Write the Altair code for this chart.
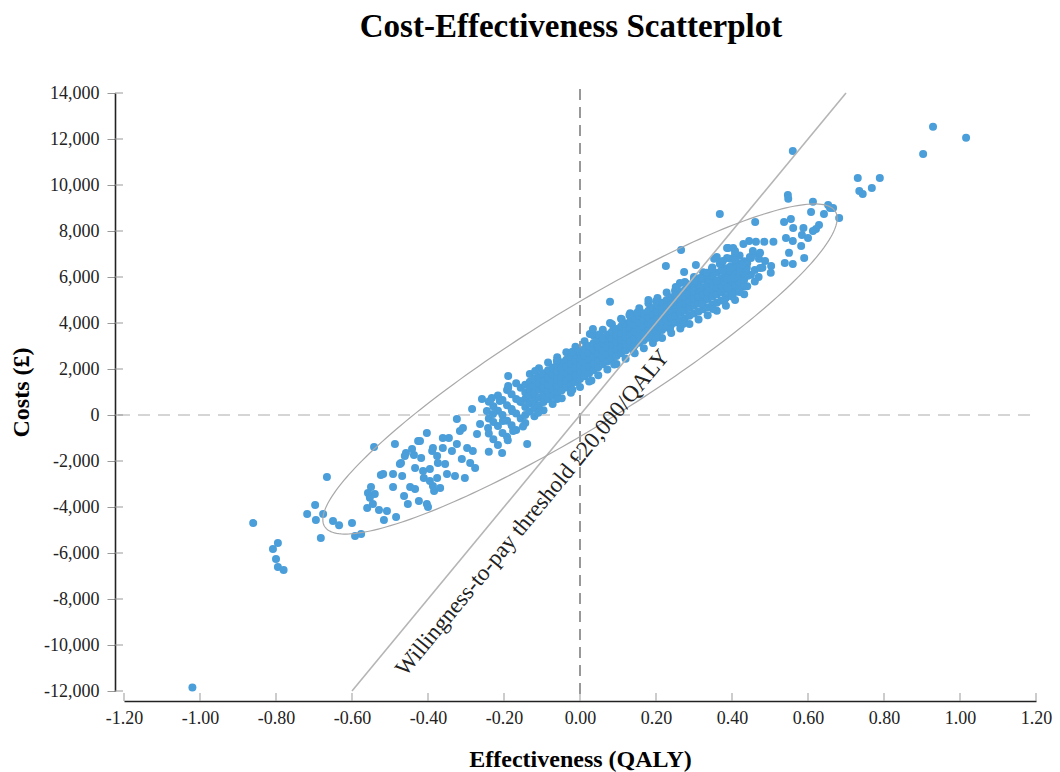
import altair as alt
import numpy as np
import pandas as pd

# ---------------- axis ticks ----------------
X_TICKS = [-1.2, -1.0, -0.8, -0.6, -0.4, -0.2, 0.0, 0.2, 0.4, 0.6, 0.8, 1.0, 1.2]
Y_TICKS = [-12000, -10000, -8000, -6000, -4000, -2000, 0, 2000, 4000, 6000,
           8000, 10000, 12000, 14000]

# ---------------- willingness-to-pay threshold ----------------
WTP = 20000
WTP_X = [-0.6, 0.7]
WTP_LABEL = "Willingness-to-pay threshold £20,000/QALY"
WTP_LABEL_POS = [-0.125, -4250]

# ---------------- confidence ellipse (centre and two half-axis vectors) ----------------
ELLIPSE_CENTER = [0.0, 2000]
ELLIPSE_AXIS1 = [0.672, 6848]
ELLIPSE_AXIS2 = [-0.080, 2146]

# ---------------- dense core of the cloud: x and the costs read at that x ----------------
CORE_X = [-0.24, -0.228, -0.216, -0.204, -0.192, -0.18, -0.168, -0.156, -0.144, -0.132,
          -0.12, -0.108, -0.096, -0.084, -0.072, -0.06, -0.048, -0.036, -0.024, -0.012,
          0.0, 0.012, 0.024, 0.036, 0.048, 0.06, 0.072, 0.084, 0.096, 0.108,
          0.12, 0.132, 0.144, 0.156, 0.168, 0.18, 0.192, 0.204, 0.216, 0.228,
          0.24, 0.252, 0.264, 0.276, 0.288, 0.30, 0.312, 0.324, 0.336, 0.348,
          0.36, 0.372, 0.384, 0.396, 0.408, 0.42, 0.432]
CORE_Y = [
    [-1600, -800, -150, 580],
    [-1050, -300, 380],
    [-1300, -480, 180, 850],
    [-780, 0, 650],
    [-950, -250, 420, 1090],
    [-450, 260, 900],
    [-650, 60, 700, 1380],
    [-150, 560, 1180],
    [-350, 0, 350, 700, 980, 1320],
    [150, 500, 830, 1130, 1450, 1780],
    [-50, 300, 620, 950, 1260, 1580],
    [420, 760, 1100, 1380, 1700, 2030],
    [210, 560, 880, 1200, 1500, 1820],
    [700, 1020, 1330, 1640, 1950, 2280],
    [480, 830, 1140, 1450, 1760, 2060],
    [950, 1260, 1570, 1870, 2180, 2510],
    [730, 1080, 1380, 1690, 2000, 2290],
    [1200, 1500, 1800, 2110, 2400, 2730],
    [970, 1320, 1630, 1930, 2230, 2520],
    [1440, 1750, 2050, 2350, 2640, 2970],
    [1220, 1570, 1870, 2170, 2470, 2760],
    [1690, 2000, 2300, 2600, 2880, 3210],
    [1460, 1810, 2120, 2420, 2710, 3000],
    [1950, 2250, 2550, 2840, 3130, 3460],
    [1730, 2080, 2380, 2680, 2970, 3260],
    [2210, 2510, 2810, 3100, 3380, 3710],
    [1980, 2330, 2630, 2930, 3220, 3500],
    [2450, 2750, 3050, 3340, 3620, 3950],
    [2220, 2570, 2870, 3170, 3460, 3740],
    [2680, 2980, 3280, 3570, 3850, 4180],
    [2450, 2800, 3100, 3400, 3690, 3970],
    [2920, 3220, 3520, 3810, 4090, 4420],
    [2680, 3030, 3330, 3630, 3920, 4200],
    [3140, 3440, 3740, 4030, 4310, 4640],
    [2900, 3250, 3550, 3850, 4140, 4420],
    [3360, 3660, 3960, 4250, 4530, 4860],
    [3130, 3480, 3780, 4080, 4370, 4650],
    [3590, 3890, 4190, 4480, 4760, 5090],
    [3350, 3700, 4010, 4310, 4600, 4880],
    [3820, 4130, 4430, 4720, 5000, 5330],
    [3570, 3920, 4240, 4540, 4830, 5120],
    [4020, 4340, 4640, 4930, 5230, 5560],
    [3760, 4110, 4440, 4740, 5040, 5340],
    [4210, 4540, 4840, 5140, 5450, 5780],
    [3960, 4310, 4650, 4950, 5250, 5560],
    [4410, 4750, 5050, 5350, 5670, 6000],
    [4150, 4500, 4850, 5150, 5450, 5780],
    [4600, 4950, 5250, 5550, 5880, 6210],
    [4340, 4690, 5040, 5340, 5650, 5980],
    [4790, 5140, 5440, 5750, 6080, 6410],
    [4530, 4880, 5240, 5540, 5850, 6180],
    [4980, 5340, 5640, 5950, 6280, 6610],
    [4750, 5100, 5440, 5740, 6050, 6380],
    [5220, 5540, 5840, 6150, 6460, 6790],
    [5000, 5350, 5640, 5930, 6230, 6530],
    [5480, 5760, 6040, 6320, 6600, 6930],
    [5250, 5600, 5880, 6140, 6400, 6680],
]

# ---------------- scattered points (lower-left tail) ----------------
LOW_X = [-1.02, -0.86, -0.795, -0.808, -0.80, -0.795, -0.78,
         -0.697, -0.718, -0.695, -0.676, -0.682, -0.65, -0.634, -0.60, -0.592, -0.576, -0.666,
         -0.55, -0.558, -0.54, -0.553, -0.56, -0.545, -0.529, -0.508, -0.516, -0.492, -0.484,
         -0.542, -0.524, -0.487,
         -0.471, -0.468, -0.458, -0.463, -0.453, -0.447, -0.434, -0.424, -0.403, -0.400, -0.384,
         -0.368, -0.387,
         -0.437, -0.418, -0.434, -0.413, -0.395, -0.411, -0.395, -0.376, -0.389, -0.376, -0.361,
         -0.374, -0.355, -0.35, -0.345, -0.337, -0.329, -0.303, -0.311, -0.316, -0.324, -0.297,
         -0.289, -0.276, -0.282, -0.271, -0.403, -0.426,
         -0.258, -0.263, -0.245, -0.242, -0.232, -0.229, -0.211, -0.203, -0.205, -0.189, -0.179,
         -0.176, -0.139, -0.158,
         -0.189, -0.189, -0.237, -0.284, -0.324, -0.308, -0.361, -0.387, -0.421, -0.442, -0.461,
         -0.474, -0.518, -0.492]
LOW_Y = [-11850, -4700, -5570, -5830, -6260, -6610, -6740,
         -3910, -4300, -4570, -4300, -5350, -4610, -4790, -4700, -5260, -5170, -2700,
         -3130, -3390, -3440, -3600, -4040, -3870, -4130, -4170, -4570, -3130, -4430,
         -1390, -2610, -1260,
         -2090, -2650, -1650, -3520, -3870, -3130, -3220, -3740, -3870, -4000, -3300,
         -3170, -3090,
         -1740, -1870, -2300, -2440, -2350, -2740, -2870, -2740, -1570, -1780, -1440,
         -2090, -2130, -2570, -1000, -1570, -2650, -2740, -1910, -700, -1260, -1440,
         -2090, -2300, -1570, -830, -780, -1130,
         700, -390, 170, -570, 740, 40, 610, -260, -1650, 1170, 170,
         -700, -1260, 610,
         1700, 1260, 610, 260, -170, -570, -1000, -1430, -1130, -1480, -1780,
         -2130, -2570, -2570]

# ---------------- scattered points around the core ----------------
MID_X = [-0.118, -0.061, 0.026, 0.034, 0.079, 0.079,
         -0.15, -0.19, -0.11, -0.06, -0.02, 0.03, 0.09, 0.14, 0.2, 0.237, 0.271, 0.35, 0.321,
         0.05, -0.02, 0.11, 0.15, 0.2, 0.18, 0.13, 0.3, 0.33, 0.25, 0.06,
         0.38, 0.4, 0.42, 0.44, 0.46, 0.45, 0.47, 0.48, 0.44, 0.46]
MID_Y = [1910, 2350, 3520, 3740, 4000, 4920,
         -500, -1100, 100, 700, 1100, 1500, 2200, 2800, 3350, 3740, 3960, 4610, 4830,
         3500, 2750, 4150, 4450, 4950, 5000, 4350, 5900, 6100, 5400, 3300,
         5000, 5150, 5350, 5600, 5800, 6100, 6000, 6400, 6600, 6300]

# ---------------- upper-right cluster and outliers ----------------
HIGH_X = [0.368, 0.547, 0.548, 0.613, 0.653, 0.666, 0.658, 0.642, 0.608, 0.682, 0.461, 0.537,
          0.555, 0.629, 0.621, 0.613, 0.561, 0.588, 0.584, 0.6, 0.542, 0.56, 0.582, 0.55, 0.59,
          0.539, 0.56, 0.509, 0.485, 0.463, 0.445, 0.43, 0.502, 0.474, 0.471, 0.456, 0.447,
          0.487, 0.439, 0.442, 0.408, 0.39, 0.387, 0.368, 0.421, 0.403,
          0.266, 0.226, 0.305, 0.274,
          0.403, 0.387, 0.408, 0.455, 0.474, 0.45, 0.503, 0.437, 0.408, 0.426, 0.36, 0.353,
          0.376, 0.395, 0.376, 0.347, 0.334, 0.316, 0.3, 0.282, 0.263, 0.255, 0.316, 0.36,
          0.387, 0.389,
          0.56, 0.929, 1.016, 0.903, 0.731, 0.789, 0.768, 0.735, 0.744]
HIGH_Y = [8740, 9570, 9400, 9270, 9130, 9000, 9000, 8740, 8830, 8570, 8390, 8390,
          8520, 8260, 8090, 8000, 8130, 8130, 7830, 7700, 7700, 7570, 7350, 7050, 6830,
          6610, 6570, 7530, 7530, 7530, 7570, 7440, 6180, 6390, 6790, 7000, 6870,
          6700, 6390, 6050, 7130, 7260, 6830, 6570, 6260, 5960,
          7170, 6480, 6520, 6220,
          7260, 7260, 7000, 7130, 7050, 6830, 6480, 6310, 6740, 6530, 6870, 6790,
          6700, 6390, 6260, 6350, 6180, 5960, 5830, 5700, 5740, 5520, 5530, 5830,
          5920, 5530,
          11480, 12530, 12050, 11350, 10300, 10300, 9870, 9740, 9610]

# ---------------- build tables ----------------
core_x, core_y = [], []
for xv, yl in zip(CORE_X, CORE_Y):
    for yv in yl:
        core_x.append(xv)
        core_y.append(yv)
points = pd.DataFrame({
    "x": core_x + LOW_X + MID_X + HIGH_X,
    "y": core_y + LOW_Y + MID_Y + HIGH_Y,
})

t = np.linspace(0, 2 * np.pi, 241)
ellipse = pd.DataFrame({
    "x": ELLIPSE_CENTER[0] + ELLIPSE_AXIS1[0] * np.cos(t) + ELLIPSE_AXIS2[0] * np.sin(t),
    "y": ELLIPSE_CENTER[1] + ELLIPSE_AXIS1[1] * np.cos(t) + ELLIPSE_AXIS2[1] * np.sin(t),
    "o": np.arange(len(t)),
})
wtp = pd.DataFrame({"x": [WTP_X[0]], "y": [WTP * WTP_X[0]],
                    "x2": [WTP_X[1]], "y2": [WTP * WTP_X[1]]})
label = pd.DataFrame({"x": [WTP_LABEL_POS[0]], "y": [WTP_LABEL_POS[1]], "t": [WTP_LABEL]})

W, H = 912, 598
FONT = "Liberation Serif"
DOT = "#4a9ed9"

xs = alt.Scale(domain=[X_TICKS[0], X_TICKS[-1]], nice=False, zero=False)
ys = alt.Scale(domain=[Y_TICKS[0], Y_TICKS[-1]], nice=False, zero=False)

x_axis = alt.Axis(values=X_TICKS, title="Effectiveness (QALY)", offset=10, ticks=False,
                  domainColor="#222", domainWidth=1.6, labelFont=FONT, labelFontSize=18,
                  labelColor="#222", labelPadding=8, labelFlush=False,
                  labelExpr="(datum.value < -0.0001 ? '-' : '') + format(abs(datum.value), '.2f')",
                  titleFont=FONT, titleFontSize=24, titleFontWeight="bold", titleColor="black",
                  titlePadding=20, grid=False)
y_axis = alt.Axis(values=Y_TICKS, title="Costs (£)", offset=9, tickSize=8, tickColor="#999",
                  tickWidth=1, domainColor="#222", domainWidth=1.6, labelFont=FONT,
                  labelFontSize=18, labelColor="#222", labelPadding=8, labelFlush=False,
                  labelExpr="(datum.value < 0 ? '-' : '') + format(abs(datum.value), ',')",
                  titleFont=FONT, titleFontSize=24, titleFontWeight="bold", titleColor="black",
                  titlePadding=10, grid=False)


def X(field="x:Q"):
    return alt.X(field, scale=xs, axis=x_axis)


def Y(field="y:Q"):
    return alt.Y(field, scale=ys, axis=y_axis)


zero_h = alt.Chart(pd.DataFrame({"y": [0]})).mark_rule(
    color="#c8c8c8", strokeWidth=1.5, strokeDash=[12, 8]).encode(
    y=Y(), x=alt.value(-6), x2=alt.value(W))

zero_v = alt.Chart(pd.DataFrame({"x": [0]})).mark_rule(
    color="#777", strokeWidth=1.5, strokeDash=[11, 7]).encode(
    x=X(), y=alt.value(-4), y2=alt.value(H + 4))

ytick_in = alt.Chart(pd.DataFrame({"y": Y_TICKS})).mark_rule(color="#999", strokeWidth=1).encode(
    y=Y(), x=alt.value(-9), x2=alt.value(-1))
xtick_in = alt.Chart(pd.DataFrame({"x": X_TICKS})).mark_rule(color="#999", strokeWidth=1).encode(
    x=X(), y=alt.value(H + 2), y2=alt.value(H + 10))

dots = alt.Chart(points).mark_circle(size=64, color=DOT, opacity=1).encode(x=X(), y=Y())

wtp_line = alt.Chart(wtp).mark_rule(color="#b5b5b5", strokeWidth=1.6).encode(
    x=X(), y=Y(), x2="x2:Q", y2="y2:Q")

ell = alt.Chart(ellipse).mark_line(color="#a8a8a8", strokeWidth=1.2).encode(
    x=X(), y=Y(), order="o:Q")

txt = alt.Chart(label).mark_text(angle=309.6, font=FONT, fontSize=23, color="#222",
                                 align="center", baseline="middle").encode(
    x=X(), y=Y(), text="t:N")

chart = alt.layer(zero_h, zero_v, ytick_in, xtick_in, dots, wtp_line, ell, txt).properties(
    width=W, height=H,
    title=alt.TitleParams("Cost-Effectiveness Scatterplot", font=FONT, fontSize=33,
                          fontWeight="bold", color="black", anchor="middle", offset=40, dx=-9),
    autosize=alt.AutoSizeParams(type="none"),
    padding={"left": 124, "top": 93, "right": 24, "bottom": 81},
).configure_view(stroke=None).configure_axis(grid=False)

chart.save("out.html", embed_options={"renderer": "svg", "actions": False})
